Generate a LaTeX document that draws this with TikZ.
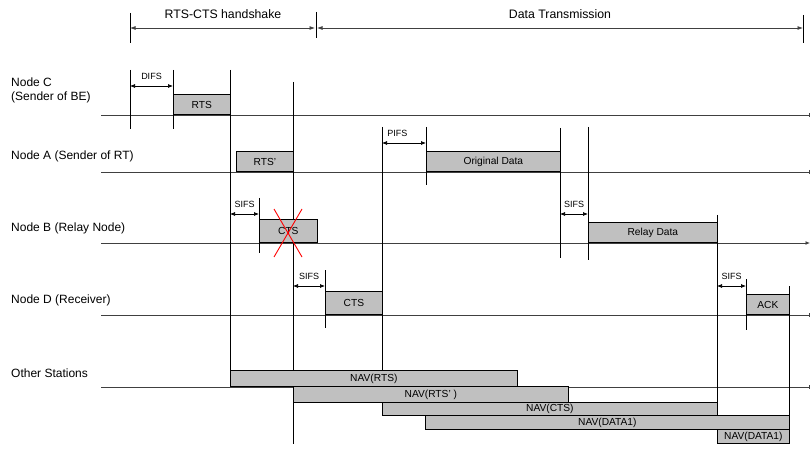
\documentclass[tikz,border=0pt]{standalone}
\usepackage{fontspec}
\setmainfont{Liberation Sans}
\usetikzlibrary{arrows.meta}

\definecolor{boxgray}{HTML}{C0C0C0}
\definecolor{linegray}{HTML}{404040}

\begin{document}
\begin{tikzpicture}[x=1pt, y=-1pt, >={Latex[length=5.5pt,width=4pt]},
    frame/.style={draw=black, fill=boxgray, line width=0.7pt, inner sep=0pt,
        anchor=south west, font=\fontsize{10.2}{11}\selectfont},
    lane/.style={draw=linegray, line width=0.9pt},
    instant/.style={draw=black, line width=0.6pt},
    gap/.style={<->, >={Latex[length=5pt,width=4pt]}, line width=0.7pt},
    gaplabel/.style={font=\fontsize{9}{10}\selectfont, inner sep=0pt},
    station/.style={anchor=west, align=left, inner sep=0pt, font=\fontsize{12}{14}\selectfont}]
    \useasboundingbox (0,0) rectangle (811,449);

    % Phase labels
    \draw[instant] (130,13) -- (130,43);
    \draw[instant] (316,12) -- (316,38);
    \draw[instant] (803,15) -- (803,43);
    \coordinate (hsL) at (130,28);
    \coordinate (hsR) at (315,28);
    \coordinate (dtL) at (317,28);
    \coordinate (dtR) at (803,28);
    \draw[<->, linegray, line width=0.8pt] (hsL) -- (hsR);
    \draw[<->, linegray, line width=0.8pt] (dtL) -- (dtR);
    \node[font=\fontsize{12.3}{14}\selectfont] (hs) at (223,14) {RTS-CTS handshake};
    \node[font=\fontsize{12.3}{14}\selectfont] (dt) at (560,14) {Data Transmission};

    % Stations
    \node[station] (labC) at (11,90) {Node C\\(Sender of BE)};
    \node[station] (labA) at (11,156) {Node A (Sender of RT)};
    \node[station] (labB) at (11,228.5) {Node B (Relay Node)};
    \node[station] (labD) at (11,300) {Node D (Receiver)};
    \node[station] (labO) at (11,373) {Other Stations};

    % Time lines
    \draw[lane, -{Bar[width=4pt]}] (101,115) -- (810,115);
    \draw[lane, -{Bar[width=4pt]}] (101,172) -- (810,172);
    \draw[lane, -{Latex[length=4.5pt,width=4pt]}] (101,243) -- (810,243);
    \draw[lane, -{Bar[width=4pt]}] (101,315) -- (810,315);
    \draw[lane, -{Bar[width=4pt]}] (101,387) -- (810,387);

    % Instants
    \draw[instant] (130,70) -- (130,129);
    \draw[instant] (173,70) -- (173,129);
    \draw[instant] (230,70) -- (230,371);
    \draw[instant] (293,82) -- (293,444);
    \draw[instant] (259,198) -- (259,253);
    \draw[instant] (325,270) -- (325,328);
    \draw[instant] (382,127) -- (382,403);
    \draw[instant] (426,127) -- (426,185);
    \draw[instant] (560,128) -- (560,258);
    \draw[instant] (588,127) -- (588,260);
    \draw[instant] (717,215) -- (717,430);
    \draw[instant] (746,279) -- (746,330);
    \draw[instant] (789,286) -- (789,416);

    % Frames
    \node[frame, minimum width=57pt, minimum height=20pt] (rtsC) at (173,115) {RTS};
    \node[frame, minimum width=57pt, minimum height=20pt] (rtsA) at (236,172) {RTS’};
    \node[frame, minimum width=58pt, minimum height=23pt] (ctsB) at (259,243) {CTS};
    \node[frame, minimum width=57pt, minimum height=23pt] (ctsD) at (325,315) {CTS};
    \node[frame, minimum width=134pt, minimum height=20pt] (dataA) at (426,172) {Original Data};
    \node[frame, minimum width=129pt, minimum height=20pt] (dataB) at (588,243) {Relay Data};
    \node[frame, minimum width=43pt, minimum height=20pt] (ackD) at (746,315) {ACK};

    % NAV
    \node[frame, minimum width=287pt, minimum height=16pt] (navRTS) at (230,387) {NAV(RTS)};
    \node[frame, minimum width=275pt, minimum height=16pt] (navRTSp) at (293,403) {NAV(RTS’ )};
    \node[frame, minimum width=335pt, minimum height=13pt] (navCTS) at (382,416) {NAV(CTS)};
    \node[frame, minimum width=364pt, minimum height=14pt] (navDATA) at (425,430) {NAV(DATA1)};
    \node[frame, minimum width=72pt, minimum height=14pt] (navDATAb) at (717,444) {NAV(DATA1)};

    % Lost CTS
    \draw[red, line width=0.9pt] (274,209) -- (302,257);
    \draw[red, line width=0.9pt] (302,209) -- (274,257);

    % Interframe spaces
    \draw[gap] (130,86) -- (173,86) node[gaplabel, midway, above=6pt] (difs) {DIFS};
    \draw[gap] (230,214) -- (259,214) node[gaplabel, midway, above=6pt] (sifsB) {SIFS};
    \draw[gap] (293,286) -- (325,286) node[gaplabel, midway, above=6pt] (sifsD) {SIFS};
    \draw[gap] (382,143) -- (426,143) node[gaplabel, pos=0.35, above=6pt] (pifs) {PIFS};
    \draw[gap] (560,214) -- (588,214) node[gaplabel, midway, above=6pt] (sifsR) {SIFS};
    \draw[gap] (717,286) -- (746,286) node[gaplabel, midway, above=6pt] (sifsA) {SIFS};
\end{tikzpicture}
\end{document}
